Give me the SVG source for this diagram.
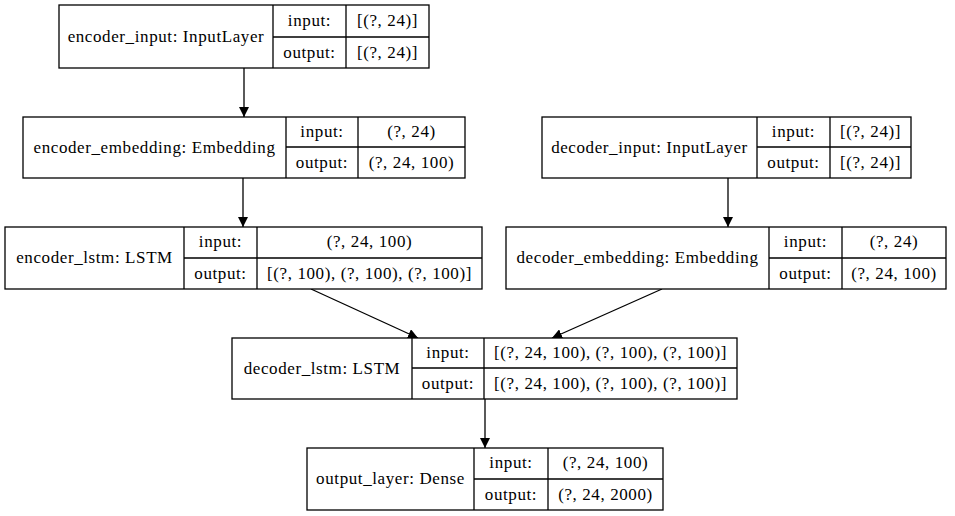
<svg xmlns="http://www.w3.org/2000/svg" width="955" height="516" viewBox="0 0 955 516">
<style>
.box{fill:#fff;stroke:#000;stroke-width:1.3}
.ln{stroke:#000;stroke-width:1.3;fill:none}
.t{font-family:'Liberation Serif',serif;font-size:17px;letter-spacing:0.6px;fill:#000;text-anchor:middle}
.edge{stroke:#000;stroke-width:1.3;fill:none;marker-end:url(#ah)}
</style>
<defs>
<marker id="ah" viewBox="0 0 10 10" refX="10" refY="5" markerWidth="10" markerHeight="10" markerUnits="userSpaceOnUse" orient="auto">
<path d="M0,0 L10,5 L0,10 z" fill="#000"/>
</marker>
</defs>
<rect width="955" height="516" fill="#fff"/>
<g id="connectors">
<line class="edge" x1="244" y1="68" x2="244" y2="117"/>
<line class="edge" x1="243" y1="178" x2="243" y2="227"/>
<line class="edge" x1="728" y1="178" x2="728" y2="227"/>
<line class="edge" x1="311" y1="289" x2="418" y2="338"/>
<line class="edge" x1="662" y1="289" x2="552" y2="338"/>
<line class="edge" x1="485" y1="399" x2="485" y2="448"/>
</g>
<g class="t">
<g id="encoder_input">
<rect class="box" x="59" y="5" width="370" height="63"/>
<path class="ln" d="M273,5V68M346,5V68M273,37H429"/>
<text x="166" y="42">encoder_input: InputLayer</text>
<text x="309.5" y="26">input:</text>
<text x="309.5" y="58">output:</text>
<text x="387.5" y="26">[(?, 24)]</text>
<text x="387.5" y="58">[(?, 24)]</text>
</g>
<g id="encoder_embedding">
<rect class="box" x="23" y="117" width="442" height="61"/>
<path class="ln" d="M286,117V178M358,117V178M286,147H465"/>
<text x="154.5" y="153">encoder_embedding: Embedding</text>
<text x="322" y="137">input:</text>
<text x="322" y="168">output:</text>
<text x="411.5" y="137">(?, 24)</text>
<text x="411.5" y="168">(?, 24, 100)</text>
</g>
<g id="decoder_input">
<rect class="box" x="542" y="117" width="369" height="61"/>
<path class="ln" d="M757,117V178M830,117V178M757,147H911"/>
<text x="649.5" y="153">decoder_input: InputLayer</text>
<text x="793.5" y="137">input:</text>
<text x="793.5" y="168">output:</text>
<text x="870.5" y="137">[(?, 24)]</text>
<text x="870.5" y="168">[(?, 24)]</text>
</g>
<g id="encoder_lstm">
<rect class="box" x="5" y="227" width="477" height="62"/>
<path class="ln" d="M184,227V289M257,227V289M184,258H482"/>
<text x="94.5" y="263">encoder_lstm: LSTM</text>
<text x="220.5" y="247">input:</text>
<text x="220.5" y="279">output:</text>
<text x="369.5" y="247">(?, 24, 100)</text>
<text x="369.5" y="279">[(?, 100), (?, 100), (?, 100)]</text>
</g>
<g id="decoder_embedding">
<rect class="box" x="506" y="227" width="440" height="62"/>
<path class="ln" d="M769,227V289M842,227V289M769,258H946"/>
<text x="637.5" y="263">decoder_embedding: Embedding</text>
<text x="805.5" y="247">input:</text>
<text x="805.5" y="279">output:</text>
<text x="894" y="247">(?, 24)</text>
<text x="894" y="279">(?, 24, 100)</text>
</g>
<g id="decoder_lstm">
<rect class="box" x="232" y="338" width="505" height="61"/>
<path class="ln" d="M412,338V399M484,338V399M412,368H737"/>
<text x="322" y="374">decoder_lstm: LSTM</text>
<text x="448" y="358">input:</text>
<text x="448" y="389">output:</text>
<text x="610.5" y="358">[(?, 24, 100), (?, 100), (?, 100)]</text>
<text x="610.5" y="389">[(?, 24, 100), (?, 100), (?, 100)]</text>
</g>
<g id="output_layer">
<rect class="box" x="307" y="448" width="356" height="62"/>
<path class="ln" d="M474,448V510M548,448V510M474,479H663"/>
<text x="390.5" y="484">output_layer: Dense</text>
<text x="511" y="468">input:</text>
<text x="511" y="500">output:</text>
<text x="605.5" y="468">(?, 24, 100)</text>
<text x="605.5" y="500">(?, 24, 2000)</text>
</g>
</g>
</svg>
